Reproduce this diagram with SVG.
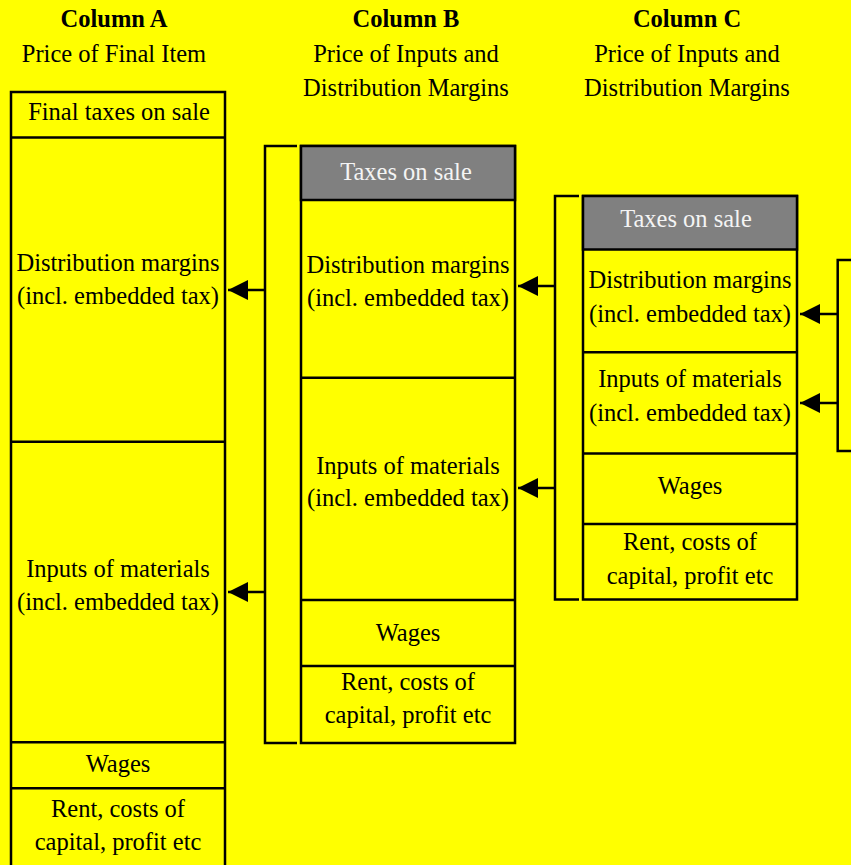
<svg xmlns="http://www.w3.org/2000/svg" width="851" height="865" viewBox="0 0 851 865">
<style>
  text { font-family: "Liberation Serif", "Times New Roman", serif; font-size: 24.5px; fill: #000; text-anchor: middle; }
  .hd { font-weight: bold; }
  .wt { fill: #f4f4f4; }
  .box { fill: #ffff00; stroke: #000; stroke-width: 2.5; }
  .tax { fill: #808080; stroke: #000; stroke-width: 2.5; }
  .ln { fill: none; stroke: #000; stroke-width: 2.5; }
  .arr { fill: none; stroke: #000; stroke-width: 2.5; marker-end: url(#ah); }
</style>
<defs>
  <marker id="ah" markerUnits="userSpaceOnUse" markerWidth="21" markerHeight="21" refX="20" refY="10" orient="auto" viewBox="0 0 21 20">
    <path d="M0,0 L20,10 L0,20 z" fill="#000"/>
  </marker>
</defs>
<rect x="0" y="0" width="851" height="865" fill="#ffff00"/>

<g id="headers">
  <text class="hd" x="114" y="27">Column A</text>
  <text x="114" y="62">Price of Final Item</text>
  <text class="hd" x="406" y="27">Column B</text>
  <text x="406" y="62">Price of Inputs and</text>
  <text x="406" y="96">Distribution Margins</text>
  <text class="hd" x="687" y="27">Column C</text>
  <text x="687" y="62">Price of Inputs and</text>
  <text x="687" y="96">Distribution Margins</text>
</g>

<g id="colA">
  <rect class="box" x="11" y="92" width="214" height="790"/>
  <line class="ln" x1="11" y1="137.5" x2="225" y2="137.5"/>
  <line class="ln" x1="11" y1="441.7" x2="225" y2="441.7"/>
  <line class="ln" x1="11" y1="742.3" x2="225" y2="742.3"/>
  <line class="ln" x1="11" y1="788.3" x2="225" y2="788.3"/>
  <text x="119" y="120">Final taxes on sale</text>
  <text x="118" y="271">Distribution margins</text>
  <text x="118" y="304">(incl. embedded tax)</text>
  <text x="118" y="577">Inputs of materials</text>
  <text x="118" y="610">(incl. embedded tax)</text>
  <text x="118" y="772">Wages</text>
  <text x="118" y="817">Rent, costs of</text>
  <text x="118" y="850">capital, profit etc</text>
</g>

<g id="colB">
  <rect class="box" x="301" y="146" width="214" height="597"/>
  <rect class="tax" x="301" y="146" width="214" height="54"/>
  <line class="ln" x1="301" y1="377.7" x2="515" y2="377.7"/>
  <line class="ln" x1="301" y1="600" x2="515" y2="600"/>
  <line class="ln" x1="301" y1="666" x2="515" y2="666"/>
  <text class="wt" x="406" y="180">Taxes on sale</text>
  <text x="408" y="273">Distribution margins</text>
  <text x="408" y="306">(incl. embedded tax)</text>
  <text x="408" y="474">Inputs of materials</text>
  <text x="408" y="506">(incl. embedded tax)</text>
  <text x="408" y="641">Wages</text>
  <text x="408" y="690">Rent, costs of</text>
  <text x="408" y="723">capital, profit etc</text>
</g>

<g id="colC">
  <rect class="box" x="583" y="196" width="214" height="403.5"/>
  <rect class="tax" x="583" y="196" width="214" height="53.5"/>
  <line class="ln" x1="583" y1="352.3" x2="797" y2="352.3"/>
  <line class="ln" x1="583" y1="453.5" x2="797" y2="453.5"/>
  <line class="ln" x1="583" y1="524" x2="797" y2="524"/>
  <text class="wt" x="686" y="227">Taxes on sale</text>
  <text x="690" y="288">Distribution margins</text>
  <text x="690" y="322">(incl. embedded tax)</text>
  <text x="690" y="387">Inputs of materials</text>
  <text x="690" y="421">(incl. embedded tax)</text>
  <text x="690" y="494">Wages</text>
  <text x="690" y="550">Rent, costs of</text>
  <text x="690" y="584">capital, profit etc</text>
</g>

<g id="connectors">
  <path class="ln" d="M297,146 H265 V743 H297"/>
  <path class="ln" d="M579,196 H555 V599.5 H579"/>
  <path class="ln" d="M851,260 H837.7 V451 H851"/>
  <line class="arr" x1="265" y1="290" x2="228" y2="290"/>
  <line class="arr" x1="265" y1="592" x2="228" y2="592"/>
  <line class="arr" x1="555" y1="286" x2="518" y2="286"/>
  <line class="arr" x1="555" y1="488" x2="518" y2="488"/>
  <line class="arr" x1="837.7" y1="314" x2="800" y2="314"/>
  <line class="arr" x1="837.7" y1="403" x2="800" y2="403"/>
</g>
</svg>
